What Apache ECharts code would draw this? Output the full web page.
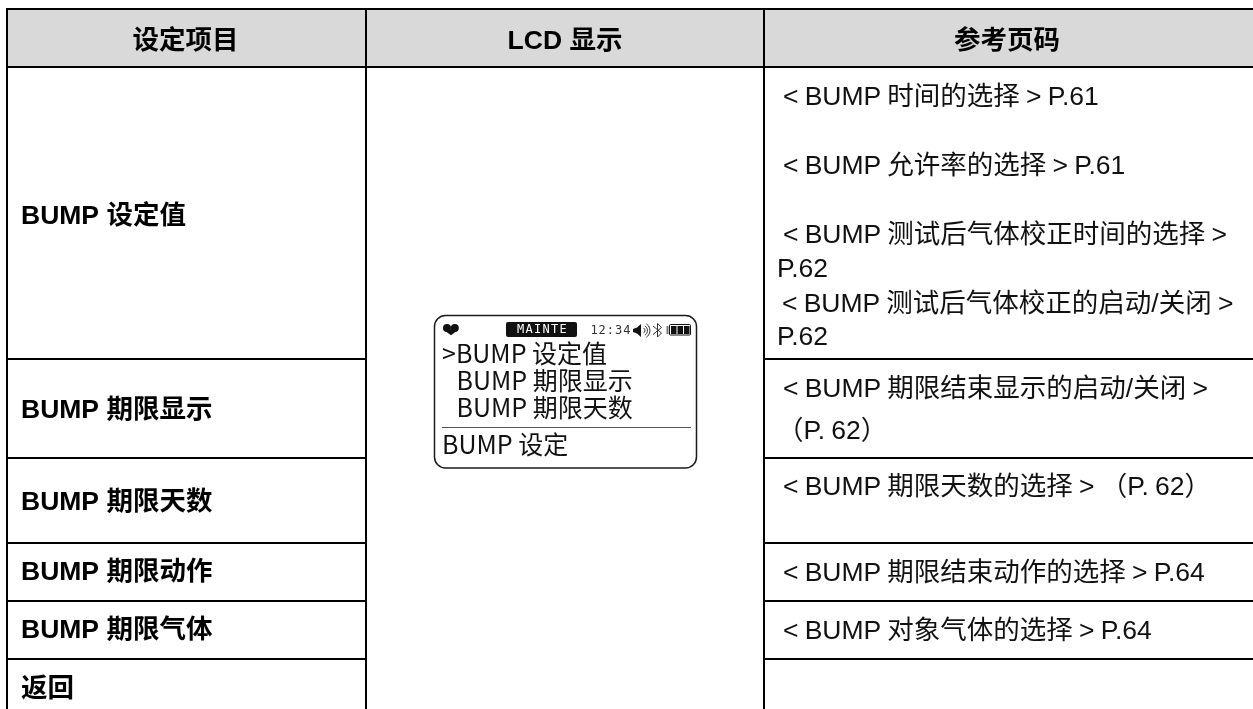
<!DOCTYPE html>
<html><head><meta charset="utf-8">
<style>html,body{margin:0;padding:0;background:#fff}#c{width:1253px;height:709px}</style>
<script src="https://cdn.jsdelivr.net/npm/echarts@6/dist/echarts.min.js"></script>
</head><body><div id="c"></div>
<script>
const FONT = '"Liberation Sans","Noto Sans CJK SC",sans-serif';
const headers = ['设定项目', 'LCD 显示', '参考页码'];
const items = ['BUMP 设定值', 'BUMP 期限显示', 'BUMP 期限天数', 'BUMP 期限动作', 'BUMP 期限气体', '返回'];
const refTexts = [
 '< BUMP 时间的选择 > P.61', '< BUMP 允许率的选择 > P.61',
 '< BUMP 测试后气体校正时间的选择 >', 'P.62',
 '< BUMP 测试后气体校正的启动/关闭 >', 'P.62',
 '< BUMP 期限结束显示的启动/关闭 >', '（P. 62）',
 '< BUMP 期限天数的选择 > （P. 62）',
 '< BUMP 期限结束动作的选择 > P.64', '< BUMP 对象气体的选择 > P.64'
];
const lcdMenu = ['>BUMP 设定值', 'BUMP 期限显示', 'BUMP 期限天数'];
const lcdTitle = 'BUMP 设定';
const lcdMode = 'MAINTE';
const lcdClock = '12:34';

const itemY = [217, 411, 503, 573, 631, 690];
const refX = [783, 783, 783, 777, 782, 777, 783, 777, 783, 783, 783];
const refY = [98, 166.5, 236, 270, 305, 338, 390, 432, 487.5, 574, 631.5];
const rowTop = [358, 457, 542, 600, 658];
const g = [];
const rect = (x,y,w,h,fill) => g.push({type:'rect',shape:{x,y,width:w,height:h},style:{fill}});
const text = (t,x,y,o,extra) => g.push(Object.assign({type:'text',x,y,style:Object.assign({text:t,font:'26.5px '+FONT,fill:'#111',align:'left',verticalAlign:'middle'},o||{})},extra||{}));

// table frame
rect(6,8,1247,60,'#d9d9d9');
rect(6,8,1247,2,'#000');
rect(6,66,1247,2,'#000');
rowTop.forEach(y => { rect(7,y,359,2,'#000'); rect(764,y,489,2,'#000'); });
rect(6,8,2,701,'#000');
rect(365,8,2,701,'#000');
rect(763,8,2,701,'#000');

// text
[185.5,565,1007].forEach((x,i)=>text(headers[i],x,42,{font:'bold 26.5px '+FONT,fill:'#000',align:'center'}));
items.forEach((t,i)=>text(t,21,itemY[i],{font:'bold 26.5px '+FONT,fill:'#000'}));
// reference column sits on its own layer, whose word spacing is tightened below
refTexts.forEach((t,i)=>text(t,refX[i],refY[i],null,{zlevel:1}));

// LCD body
const LCD_FONT='"Noto Sans CJK SC",sans-serif';
g.push({type:'rect',shape:{x:434.5,y:315.5,width:262,height:152.5,r:11},style:{fill:'#fff',stroke:'#1a1a1a',lineWidth:1.5}});
// heart
g.push({type:'circle',shape:{cx:447,cy:328,r:4},style:{fill:'#111'}});
g.push({type:'circle',shape:{cx:454.8,cy:328,r:4},style:{fill:'#111'}});
g.push({type:'polygon',shape:{points:[[443.1,329.6],[458.7,329.6],[451,335.3]]},style:{fill:'#111'}});
// mode badge
g.push({type:'rect',shape:{x:506,y:322,width:71,height:15,r:2},style:{fill:'#111'}});
lcdMode.split('').forEach((c,i)=>text(c,520.5+i*8.5,329.5,{font:'12px "DejaVu Sans Mono",monospace',fill:'#fff',align:'center'}));
lcdClock.split('').forEach((c,i)=>text(c,594+i*8.2,330.5,{font:'12px "DejaVu Sans Mono",monospace',fill:'#333',align:'center'}));
// speaker
g.push({type:'polygon',shape:{points:[[633,329],[637,327.5],[641,324],[641,337],[637,333.5],[633,332]]},style:{fill:'#111'}});
[3,5.5,8].forEach(r=>g.push({type:'arc',shape:{cx:642,cy:330.5,r,startAngle:-1,endAngle:1},style:{stroke:'#333',lineWidth:1,fill:'none'}}));
// bluetooth
g.push({type:'polyline',shape:{points:[[653,326],[661.5,333],[657.5,337],[657.5,323.5],[661.5,327.5],[653,334.5]]},style:{stroke:'#333',lineWidth:1,fill:'none'}});
// battery
g.push({type:'rect',shape:{x:669.5,y:324.5,width:21,height:10.5,r:1},style:{fill:'#fff',stroke:'#111',lineWidth:1}});
g.push({type:'rect',shape:{x:666.5,y:326,width:2,height:8},style:{fill:'#777'}});
[671,677.5,684].forEach(x=>rect(x,326,5.5,8,'#111'));
// LCD text
lcdMenu.forEach((t,i)=>text(t,i===0?442:456.5,[353,380.5,407.5][i],{font:'25px '+LCD_FONT,fill:'#111'}));
rect(442,427,249,1,'#555');
text(lcdTitle,442,444.5,{font:'25px '+LCD_FONT,fill:'#111'});

const chart = echarts.init(document.getElementById('c'),null,{renderer:'canvas'});
try { chart.getZr().painter.getLayer(1).ctx.wordSpacing='-1.2px'; } catch(e) {}
chart.setOption({animation:false,graphic:{elements:g}});
</script></body></html>
